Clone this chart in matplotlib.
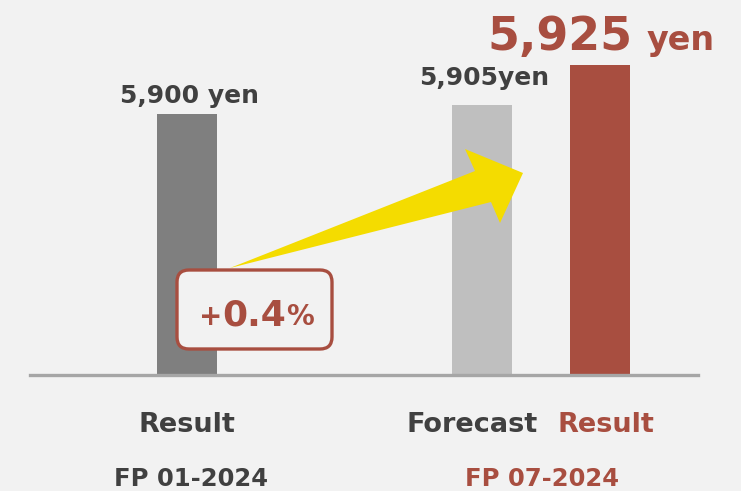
import matplotlib.pyplot as plt
from matplotlib.patches import Polygon, FancyBboxPatch
from matplotlib.transforms import Affine2D

# data
periods = ["FP 01-2024", "FP 07-2024"]
bar_names = ["Result", "Forecast", "Result"]
values = [5900, 5905, 5925]
growth = "+0.4%"

bg = "#f2f2f2"
dark = "#404040"
red = "#a84e40"
bar_colors = ["#7f7f7f", "#bfbfbf", red]

W, H = 741, 491
fig = plt.figure(figsize=(W / 100, H / 100), dpi=100, facecolor=bg)
plt.rcParams['font.family'] = ['DejaVu Sans']
# pixel coords measured from the top-left corner
px = Affine2D().scale(1, -1).translate(0, H)

ax = fig.add_axes([30 / W, 116 / H, 668 / W, 375 / H])
ax.set_facecolor(bg)
xpos = [0, 1.0, 1.4]
ax.bar(xpos, values, width=0.203, color=bar_colors, zorder=2)
ax.set_xlim(-0.532, 1.732)
ax.set_ylim(5768, 5958)
for s in ["top", "left", "right"]:
    ax.spines[s].set_visible(False)
ax.spines["bottom"].set_color("#a6a6a6")
ax.spines["bottom"].set_linewidth(2.4)
ax.set_xticks([])
ax.set_yticks([])

# value labels
fig.text(190, 96, f"{values[0]:,} yen", transform=px, ha="center", va="center",
         fontsize=18, fontweight="bold", color=dark)
fig.text(484, 78, f"{values[1]:,}yen", transform=px, ha="center", va="center",
         fontsize=18, fontweight="bold", color=dark)
fig.text(487, 50, f"{values[2]:,}", transform=px, ha="left", va="baseline",
         fontsize=33, fontweight="bold", color=red)
fig.text(647, 50, "yen", transform=px, ha="left", va="baseline",
         fontsize=24, fontweight="bold", color=red)

# category labels
fig.text(187, 432, bar_names[0], transform=px, ha="center", va="baseline",
         fontsize=19.5, fontweight="bold", color=dark)
fig.text(472, 432, bar_names[1], transform=px, ha="center", va="baseline",
         fontsize=19.5, fontweight="bold", color=dark)
fig.text(606, 432, bar_names[2], transform=px, ha="center", va="baseline",
         fontsize=19.5, fontweight="bold", color=red)
fig.text(191, 486, periods[0], transform=px, ha="center", va="baseline",
         fontsize=17.5, fontweight="bold", color=dark)
fig.text(542, 486, periods[1], transform=px, ha="center", va="baseline",
         fontsize=17.5, fontweight="bold", color=red)

# yellow arrow
arrow = Polygon([(230, 268), (475, 171), (465, 149), (523, 173), (500, 223), (491, 202)],
                closed=True, transform=px, facecolor="#f4dc00", edgecolor="none", zorder=3)
fig.add_artist(arrow)

# growth box
box = FancyBboxPatch((177, 270), 155, 79, boxstyle="round,pad=0,rounding_size=12",
                     transform=px, facecolor=bg, edgecolor=red, linewidth=2.4, zorder=4)
fig.add_artist(box)
fig.text(199, 325, growth[0], transform=px, ha="left", va="baseline",
         fontsize=20, fontweight="bold", color=red, zorder=5)
fig.text(222, 325, growth[1:4], transform=px, ha="left", va="baseline",
         fontsize=26, fontweight="bold", color=red, zorder=5)
fig.text(286, 325, growth[4], transform=px, ha="left", va="baseline",
         fontsize=20, fontweight="bold", color=red, zorder=5)

fig.savefig("out.png", dpi=100, facecolor=bg)
